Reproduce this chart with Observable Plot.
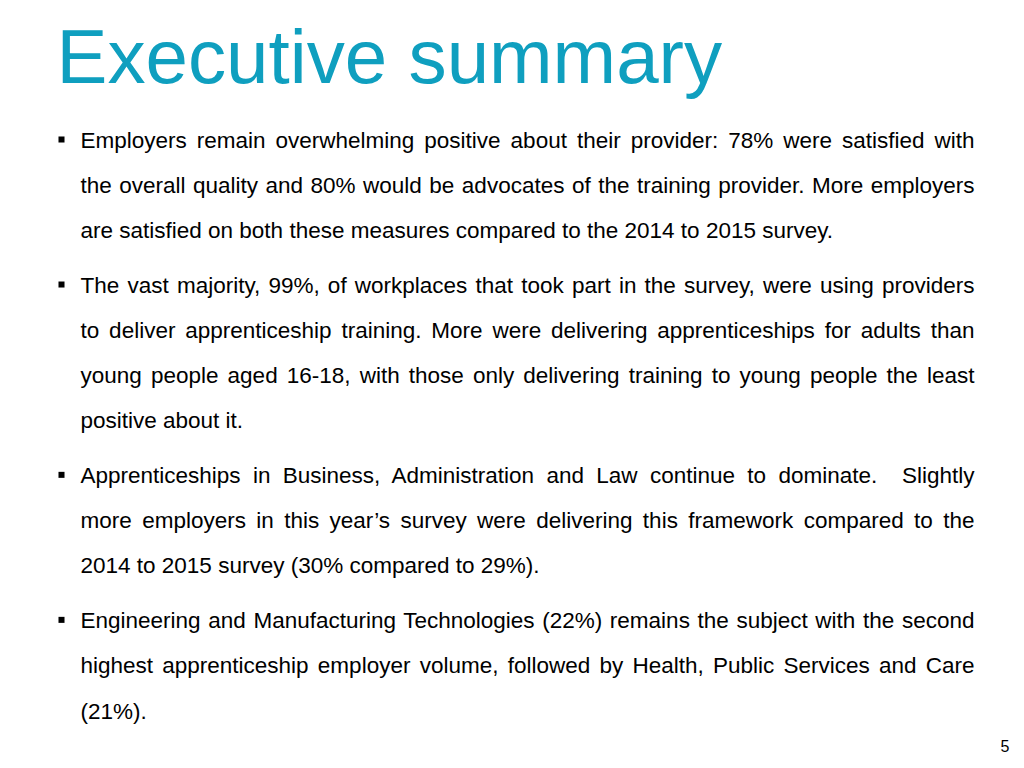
<!DOCTYPE html>
<html>
<head>
<meta charset="utf-8">
<script src="https://cdn.jsdelivr.net/npm/d3@7"></script>
<script src="https://cdn.jsdelivr.net/npm/@observablehq/plot@0.6"></script>
<style>
  html, body { margin: 0; padding: 0; background: #fff; }
  svg { display: block; }
</style>
</head>
<body>
<script>
// ---- content ----
const title = "Executive summary";
const pageNumber = "5";

const bullet1 = [
  "Employers remain overwhelming positive about their provider: 78% were satisfied with",
  "the overall quality and 80% would be advocates of the training provider. More employers",
  "are satisfied on both these measures compared to the 2014 to 2015 survey."
];
const bullet2 = [
  "The vast majority, 99%, of workplaces that took part in the survey, were using providers",
  "to deliver apprenticeship training. More were delivering apprenticeships for adults than",
  "young people aged 16-18, with those only delivering training to young people the least",
  "positive about it."
];
const bullet3 = [
  "Apprenticeships in Business, Administration and Law continue to dominate.  Slightly",
  "more employers in this year\u2019s survey were delivering this framework compared to the",
  "2014 to 2015 survey (30% compared to 29%)."
];
const bullet4 = [
  "Engineering and Manufacturing Technologies (22%) remains the subject with the second",
  "highest apprenticeship employer volume, followed by Health, Public Services and Care",
  "(21%)."
];
const bullets = [bullet1, bullet2, bullet3, bullet4];
const paragraphGap = 0.2; // extra line-slots between bullets

// ---- build rows ----
const rows = [];
let slot = 0;
bullets.forEach((lines, p) => {
  lines.forEach((text, i) => {
    rows.push({text, slot, para: p, first: i === 0, justify: i < lines.length - 1});
    slot += 1;
  });
  slot += paragraphGap;
});
const lastSlot = rows[rows.length - 1].slot;
const firstLines = rows.filter(d => d.first);

const bodyFont = "'Liberation Sans', Arial, Helvetica, sans-serif";

const chart = Plot.plot({
  width: 1024,
  height: 768,
  margin: 0,
  x: {domain: [0, 1], range: [80, 974], axis: null},
  y: {domain: [0, lastSlot], range: [147, 718], axis: null},
  style: {background: "#fff", fontFamily: bodyFont},
  marks: [
    Plot.text([title], {
      frameAnchor: "top-left", textAnchor: "start", lineAnchor: "top",
      dx: 56, dy: 28.5, fontSize: 76.3, fill: "#0f9fbf", fontFamily: bodyFont
    }),
    Plot.dot(firstLines, {
      x: () => 0, y: "slot", dx: -19, dy: -8,
      symbol: "square", r: 3.4, fill: "#000", stroke: null
    }),
    Plot.text(rows, {
      x: () => 0, y: "slot", text: "text",
      textAnchor: "start", lineAnchor: "bottom",
      fontSize: 22.5, fill: "#000", fontFamily: bodyFont
    }),
    Plot.text([pageNumber], {
      frameAnchor: "bottom-right", textAnchor: "end", lineAnchor: "bottom",
      dx: -15, dy: -17, fontSize: 16, fill: "#000", fontFamily: bodyFont
    })
  ]
});

document.body.appendChild(chart);

// justify all but the last line of each bullet
const justifyMap = new Map(rows.map(d => [d.text, d]));
const target = 974 - 80;
chart.querySelectorAll("text").forEach(t => {
  const d = justifyMap.get(t.textContent);
  if (!d) return;
  t.setAttribute("xml:space", "preserve");
  t.style.whiteSpace = "pre";
  if (!d.justify) return;
  const natural = t.getComputedTextLength();
  const spaces = (d.text.match(/ /g) || []).length;
  if (spaces > 0 && natural < target) {
    const ws = (target - natural) / spaces;
    t.setAttribute("word-spacing", ws);
    t.style.wordSpacing = ws + "px";
  }
});
</script>
</body>
</html>
